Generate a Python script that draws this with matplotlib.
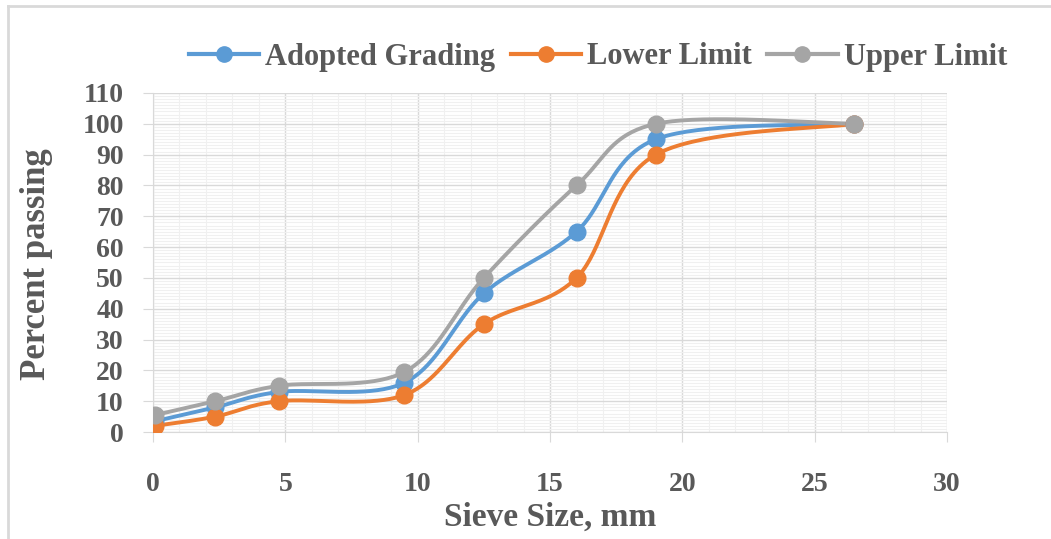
import numpy as np
import matplotlib
matplotlib.use("Agg")
import matplotlib.pyplot as plt
from matplotlib.lines import Line2D
from matplotlib.ticker import MultipleLocator

sieve = [0.075, 2.36, 4.75, 9.5, 12.5, 16, 19, 26.5]
adopted = [3.5, 8, 13, 16, 45, 65, 95, 100]
lower = [2, 5, 10, 12, 35, 50, 90, 100]
upper = [5.5, 10, 15, 19.5, 50, 80, 100, 100]
series_names = ["Adopted Grading", "Lower Limit", "Upper Limit"]
colors = ["#5B9BD5", "#ED7D31", "#A5A5A5"]


def smooth(xs, ys, n=40):
    xs = np.asarray(xs, float)
    ys = np.asarray(ys, float)
    px, py = [], []
    m = len(xs)
    for i in range(m - 1):
        p0 = np.array([xs[max(i - 1, 0)], ys[max(i - 1, 0)]])
        p1 = np.array([xs[i], ys[i]])
        p2 = np.array([xs[i + 1], ys[i + 1]])
        p3 = np.array([xs[min(i + 2, m - 1)], ys[min(i + 2, m - 1)]])
        c1 = p1 + (p2 - p0) / 6.0
        c2 = p2 - (p3 - p1) / 6.0
        t = np.linspace(0, 1, n)[:, None]
        b = ((1 - t) ** 3) * p1 + 3 * ((1 - t) ** 2) * t * c1 + 3 * (1 - t) * t ** 2 * c2 + t ** 3 * p2
        px.extend(b[:, 0])
        py.extend(b[:, 1])
    return np.array(px), np.array(py)


plt.rcParams['font.family'] = ['Liberation Serif', 'DejaVu Serif']
fig = plt.figure(figsize=(10.51, 5.39), dpi=100)
# chart-area border (left and top visible)
fig.lines.append(Line2D([0.008, 0.008], [0.0, 0.989], transform=fig.transFigure,
                        color="#D9D9D9", linewidth=2.0))
fig.lines.append(Line2D([0.008, 1.0], [0.989, 0.989], transform=fig.transFigure,
                        color="#D9D9D9", linewidth=2.0))
ax = fig.add_axes([0.1456, 0.1985, 0.7555, 0.629])

for name, ys, c in zip(series_names, [adopted, lower, upper], colors):
    sx, sy = smooth(sieve, ys)
    ax.plot(sx, sy, color=c, linewidth=2.8, zorder=3)
    ax.plot(sieve, ys, linestyle="none", marker="o", markersize=12, color=c, zorder=4)
    ax.plot([], [], color=c, linewidth=3.0, marker="o", markersize=11, label=name)

ax.set_xlim(0, 30)
ax.set_ylim(0, 110)
ax.xaxis.set_major_locator(MultipleLocator(5))
ax.yaxis.set_major_locator(MultipleLocator(10))
ax.xaxis.set_minor_locator(MultipleLocator(1))
ax.yaxis.set_minor_locator(MultipleLocator(1))
ax.grid(which="major", color="#D9D9D9", linewidth=1.0, zorder=0)
ax.grid(which="minor", color="#F0F0F0", linewidth=0.8, zorder=0)
ax.set_axisbelow(True)
for s in ["top", "right"]:
    ax.spines[s].set_visible(False)
for s in ["left", "bottom"]:
    ax.spines[s].set_color("#D9D9D9")
ax.tick_params(which="minor", length=0)
ax.tick_params(axis="x", which="major", length=7, color="#D9D9D9", pad=22,
               labelsize=20, labelcolor="#595959")
ax.tick_params(axis="y", which="major", length=7, color="#D9D9D9", pad=14,
               labelsize=20, labelcolor="#595959")
for lab in ax.get_xticklabels() + ax.get_yticklabels():
    lab.set_fontweight("bold")

ax.set_xlabel("Sieve Size, mm", fontsize=24, fontweight="bold", color="#595959")
ax.set_ylabel("Percent passing", fontsize=25, fontweight="bold", color="#595959")
ax.yaxis.set_label_coords(37 / 1051, (539 - 264) / 539, transform=fig.transFigure)
ax.xaxis.set_label_coords(550 / 1051, (539 - 517) / 539, transform=fig.transFigure)
ax.xaxis.label.set_va("center")
ax.yaxis.label.set_va("center")

leg = fig.legend(loc="center", bbox_to_anchor=(598 / 1051, 1 - 57 / 539), ncol=3, frameon=False,
                 prop={"size": 22, "weight": "bold"}, handlelength=2.3,
                 columnspacing=0.5, handletextpad=0.2)
for t in leg.get_texts():
    t.set_color("#595959")

fig.savefig("out.png", dpi=100)
